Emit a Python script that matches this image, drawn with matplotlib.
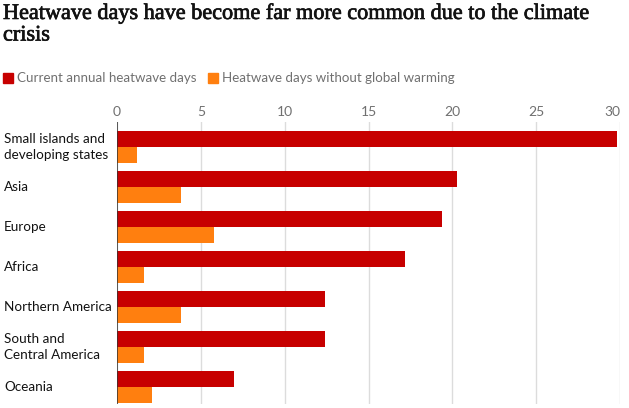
import numpy as np
import matplotlib
matplotlib.use("Agg")
import matplotlib.pyplot as plt
import matplotlib.patches as patches
import matplotlib.transforms as mtransforms
import matplotlib.patheffects as pe

regions = ["Small islands and\ndeveloping states", "Asia", "Europe", "Africa",
           "Northern America", "South and\nCentral America", "Oceania"]
current_days = [29.8, 20.3, 19.4, 17.2, 12.4, 12.4, 7.0]
no_warming_days = [1.2, 3.8, 5.8, 1.6, 3.8, 1.6, 2.1]
series_names = ["Current annual heatwave days", "Heatwave days without global warming"]
xticks = [0, 5, 10, 15, 20, 25, 30]

RED = "#c70000"
ORANGE = "#ff7f0f"
GREY = "#707070"
INK = "#121212"
W, H = 629, 408

plt.rcParams['font.family'] = ['Lato', 'DejaVu Sans']

fig = plt.figure(figsize=(W / 100, H / 100), dpi=100)
fig.patch.set_facecolor("white")

def fx(px):
    return px / W

def fy(py):
    return 1 - py / H

ax = fig.add_axes([fx(117), fy(404), fx(620) - fx(117), fy(122) - fy(404)])

y = np.arange(len(regions))
ax.barh(y - 0.2, current_days, height=0.4, color=RED, zorder=3)
ax.barh(y + 0.2, no_warming_days, height=0.4, color=ORANGE, zorder=3)

ax.set_xlim(0, 30)
ax.set_ylim(6.425, -0.625)
ax.set_xticks(xticks)
ax.set_yticks([])
ax.xaxis.tick_top()
ax.tick_params(axis="x", length=0, pad=3, labelsize=10, labelcolor=GREY)
labels = ax.get_xticklabels()
labels[-1].set_horizontalalignment("right")
ax.grid(axis="x", color="#dcdcdc", linewidth=1, zorder=0)
for s in ax.spines.values():
    s.set_visible(False)
ax.axvline(0, color="#333333", linewidth=1.1, zorder=4)

# category labels on the left
trans = mtransforms.blended_transform_factory(fig.transFigure, ax.transData)
for i, name in enumerate(regions):
    ax.text(fx(4), i, name, transform=trans, ha="left", va="center",
            fontsize=9.7, color=INK, linespacing=1.4)

# title
bold_ish = [pe.withStroke(linewidth=0.5, foreground=INK)]
fig.text(fx(3), fy(14), "Heatwave days have become far more common due to the climate",
         ha="left", va="center", fontsize=16, color=INK,
         family=["Liberation Serif"], path_effects=bold_ish)
fig.text(fx(3), fy(36), "crisis",
         ha="left", va="center", fontsize=16, color=INK,
         family=["Liberation Serif"], path_effects=bold_ish)

# legend
fig.patches.append(patches.Rectangle((fx(3), fy(83)), fx(10), fy(73) - fy(83),
                                     transform=fig.transFigure, color=RED))
fig.text(fx(17), fy(78), series_names[0], ha="left", va="center", fontsize=9.6, color=GREY)
fig.patches.append(patches.Rectangle((fx(208), fy(83)), fx(10), fy(73) - fy(83),
                                     transform=fig.transFigure, color=ORANGE))
fig.text(fx(222), fy(78), series_names[1], ha="left", va="center", fontsize=9.6, color=GREY)

fig.savefig("out.png", dpi=100)
